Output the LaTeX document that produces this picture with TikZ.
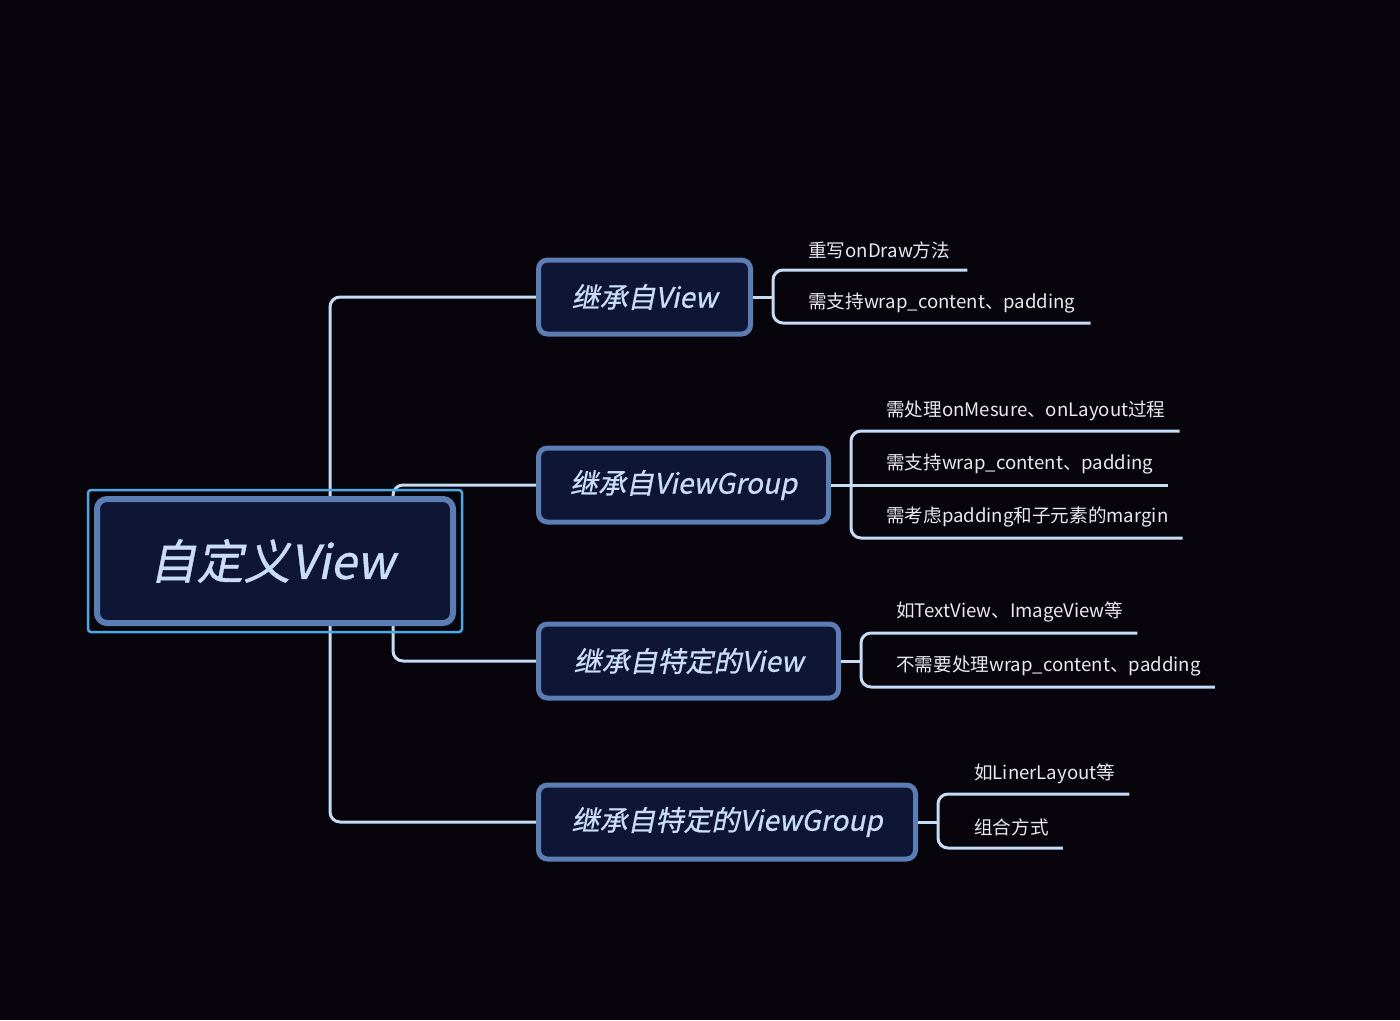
\documentclass[tikz,border=0pt]{standalone}
\usepackage{fontspec}
\setmainfont{Noto Sans CJK SC}
\newfontfamily\slfont[FakeSlant=0.2,FakeBold=0.8]{Noto Sans CJK SC}
\definecolor{bgc}{HTML}{07040B}
\definecolor{linec}{HTML}{C6DBF4}
\definecolor{nodeborder}{HTML}{5B7DB3}
\definecolor{nodefill}{HTML}{0E1535}
\definecolor{selc}{HTML}{4EA8E3}
\definecolor{titlec}{HTML}{CADDF7}
\definecolor{leafc}{HTML}{E8EAF0}
\pgfdeclarelayer{back}
\pgfdeclarelayer{wires}
\pgfsetlayers{back,wires,main}
\tikzset{
  rootbox/.style={draw=nodeborder, line width=6pt, fill=nodefill, rounded corners=10pt,
    minimum width=356pt, minimum height=124pt, font=\slfont\fontsize{47}{52}\selectfont,
    text=titlec, inner sep=0pt},
  childbox/.style={draw=nodeborder, line width=5pt, fill=nodefill, rounded corners=9pt,
    minimum height=74pt, anchor=west, font=\slfont\fontsize{28}{32}\selectfont,
    text=titlec, inner sep=0pt},
  leaf/.style={anchor=west, inner sep=0pt, text=leafc, font=\fontsize{18.6}{22}\selectfont},
  conn/.style={draw=linec, line width=3pt, rounded corners=10pt},
  selbox/.style={draw=selc, line width=2.5pt, rounded corners=3pt}
}
\begin{document}
\begin{tikzpicture}[x=1pt,y=-1pt]
\begin{pgfonlayer}{back}
\fill[bgc] (0,0) rectangle (1400,1020);
\end{pgfonlayer}
\useasboundingbox (0,0) rectangle (1400,1020);

% root
\node[rootbox] (root) at (275,561) {\hspace*{-6pt}自定义View};
\draw[selbox] (88,490) rectangle (462,632);

% children
\node[childbox, minimum width=212pt] (c1) at (536,297) {继承自View};
\node[childbox, minimum width=290pt] (c2) at (536,485) {继承自ViewGroup};
\node[childbox, minimum width=300pt] (c3) at (536,661) {继承自特定的View};
\node[childbox, minimum width=377pt] (c4) at (536,822) {继承自特定的ViewGroup};

\coordinate (t1) at (330,561);
\coordinate (t2) at (393,561);
\begin{pgfonlayer}{wires}
\draw[conn] (c1.west) -| (t1) |- (c4.west);
\draw[conn] (c2.west) -| (t2) |- (c3.west);
\end{pgfonlayer}

% leaves of c1
\node[leaf] (l11) at (808,250) {重写onDraw方法};
\node[leaf] (l12) at (808,303) {需支持wrap\_content、padding};
\coordinate (b11) at (773,270);
\coordinate (b12) at (773,323);
\path (l11.east) ++(17,0) coordinate (e11);
\path (l12.east) ++(15,0) coordinate (e12);
\draw[conn] (c1.east) -- (c1.east -| b11);
\draw[conn] (e11 |- b11) -- (b11) -- (b12) -- (e12 |- b12);

% leaves of c2
\node[leaf] (l21) at (886,411) {需处理onMesure、onLayout过程};
\node[leaf] (l22) at (886,464) {需支持wrap\_content、padding};
\node[leaf] (l23) at (886,517) {需考虑padding和子元素的margin};
\coordinate (b21) at (851,431);
\coordinate (b23) at (851,538);
\path (l21.east) ++(14,0) coordinate (e21);
\path (l22.east) ++(14,0) coordinate (e22);
\path (l23.east) ++(14,0) coordinate (e23);
\draw[conn] (c2.east) -- (e22 |- c2.east);
\draw[conn] (e21 |- b21) -- (b21) -- (b23) -- (e23 |- b23);

% leaves of c3
\node[leaf] (l31) at (896,612) {如TextView、ImageView等};
\node[leaf] (l32) at (896,666) {不需要处理wrap\_content、padding};
\coordinate (b31) at (861,633);
\coordinate (b32) at (861,687);
\path (l31.east) ++(14,0) coordinate (e31);
\path (l32.east) ++(14,0) coordinate (e32);
\draw[conn] (c3.east) -- (c3.east -| b31);
\draw[conn] (e31 |- b31) -- (b31) -- (b32) -- (e32 |- b32);

% leaves of c4
\node[leaf] (l41) at (974,774) {如LinerLayout等};
\node[leaf] (l42) at (974,827) {组合方式};
\coordinate (b41) at (938,794);
\coordinate (b42) at (938,848);
\path (l41.east) ++(14,0) coordinate (e41);
\path (l42.east) ++(14,0) coordinate (e42);
\draw[conn] (c4.east) -- (c4.east -| b41);
\draw[conn] (e41 |- b41) -- (b41) -- (b42) -- (e42 |- b42);
\end{tikzpicture}
\end{document}
